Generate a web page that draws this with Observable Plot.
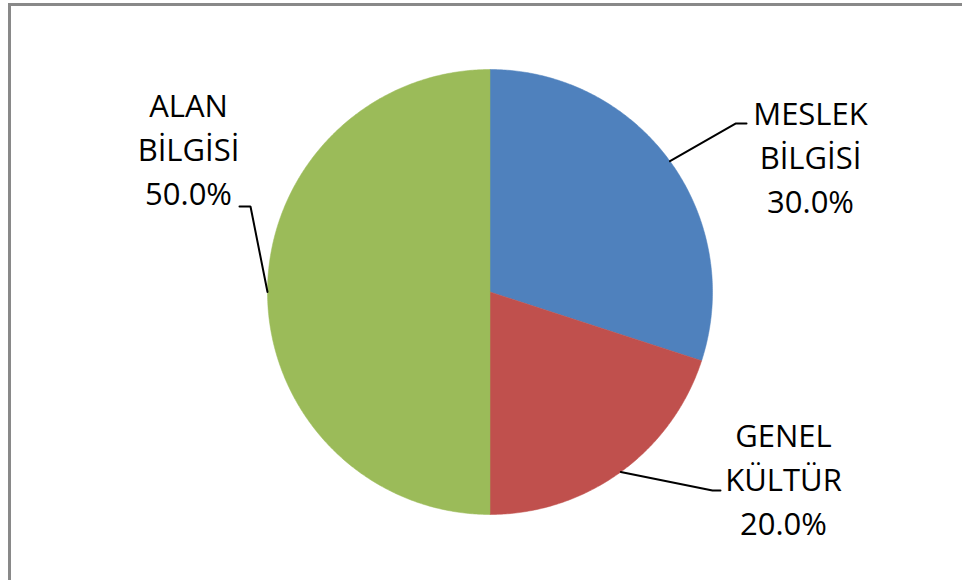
<!DOCTYPE html>
<html>
<head>
<meta charset="utf-8">
<script src="https://cdn.jsdelivr.net/npm/d3@7"></script>
<script src="https://cdn.jsdelivr.net/npm/@observablehq/plot@0.6"></script>
<style>
  html, body { margin: 0; padding: 0; background: #fff; }
  #wrap { position: relative; width: 962px; height: 580px; overflow: hidden; }
  #wrap svg { position: absolute; left: 0; top: 0; }
  #border { position: absolute; left: 8px; top: 3px; width: 960px; height: 590px;
            border-top: 3px solid #898989; border-left: 3px solid #898989; box-sizing: border-box; }
</style>
</head>
<body>
<div id="wrap"><div id="chart"></div><div id="border"></div></div>
<script>
// ---- data ----
const categories = ["MESLEK\nBİLGİSİ", "GENEL\nKÜLTÜR", "ALAN\nBİLGİSİ"];
const values = [30.0, 20.0, 50.0];
const colors = ["#4F81BD", "#C0504D", "#9BBB59"];

// ---- layout (label placement relative to slice mid-angle point on rim) ----
const R = 222.5;
const labelLayout = [
  { elbow: [65.5, -37.7], end: [76.5, -37.7], text: [140.5, -6.5] },
  { elbow: [91.7, 18.5], end: [99.7, 18.5], text: [162.7, 4.5] },
  { elbow: [-17, -85.5], end: [-28, -85.5], text: [-79, -145] }
];

const total = d3.sum(values);
const pie = d3.pie().sort(null).startAngle(0).endAngle(2 * Math.PI)(values);
const pt = (a, r) => [r * Math.sin(a), -r * Math.cos(a)];

// slice polygons
const slices = [];
pie.forEach((p, i) => {
  slices.push({ cat: categories[i], x: 0, y: 0 });
  const n = Math.max(2, Math.ceil((p.endAngle - p.startAngle) / (Math.PI / 360)));
  for (let k = 0; k <= n; k++) {
    const a = p.startAngle + (p.endAngle - p.startAngle) * k / n;
    const [x, y] = pt(a, R);
    slices.push({ cat: categories[i], x, y });
  }
  slices.push({ cat: categories[i], x: 0, y: 0 });
});

// leader lines & labels
const leaders = [];
const labels = [];
pie.forEach((p, i) => {
  const mid = (p.startAngle + p.endAngle) / 2;
  const [ax, ay] = pt(mid, R);
  const L = labelLayout[i];
  leaders.push({ cat: categories[i], x: ax, y: ay });
  leaders.push({ cat: categories[i], x: ax + L.elbow[0], y: ay + L.elbow[1] });
  leaders.push({ cat: categories[i], x: ax + L.end[0], y: ay + L.end[1] });
  labels.push({
    x: ax + L.text[0], y: ay + L.text[1],
    text: categories[i] + "\n" + (values[i] / total * 100).toFixed(1) + "%"
  });
});

const chart = Plot.plot({
  width: 962,
  height: 580,
  margin: 0,
  x: { domain: [-489.5, 472.5], range: [0, 962], axis: null },
  y: { domain: [-291.5, 288.5], range: [0, 580], axis: null },
  color: { domain: categories, range: colors },
  style: { background: "transparent", fontFamily: "'Open Sans', sans-serif" },
  marks: [
    Plot.line(slices, { x: "x", y: "y", z: "cat", fill: "cat", stroke: "cat", strokeWidth: 0.5, curve: "linear-closed" }),
    Plot.line(leaders, { x: "x", y: "y", z: "cat", stroke: "#000", strokeWidth: 2, strokeLinejoin: "miter" }),
    Plot.text(labels, { x: "x", y: "y", text: "text", fontSize: 31, lineHeight: 1.42, fill: "#000",
      textAnchor: "middle", lineAnchor: "middle", fontFamily: "'Open Sans', sans-serif" })
  ]
});
document.getElementById("chart").appendChild(chart);
</script>
</body>
</html>
